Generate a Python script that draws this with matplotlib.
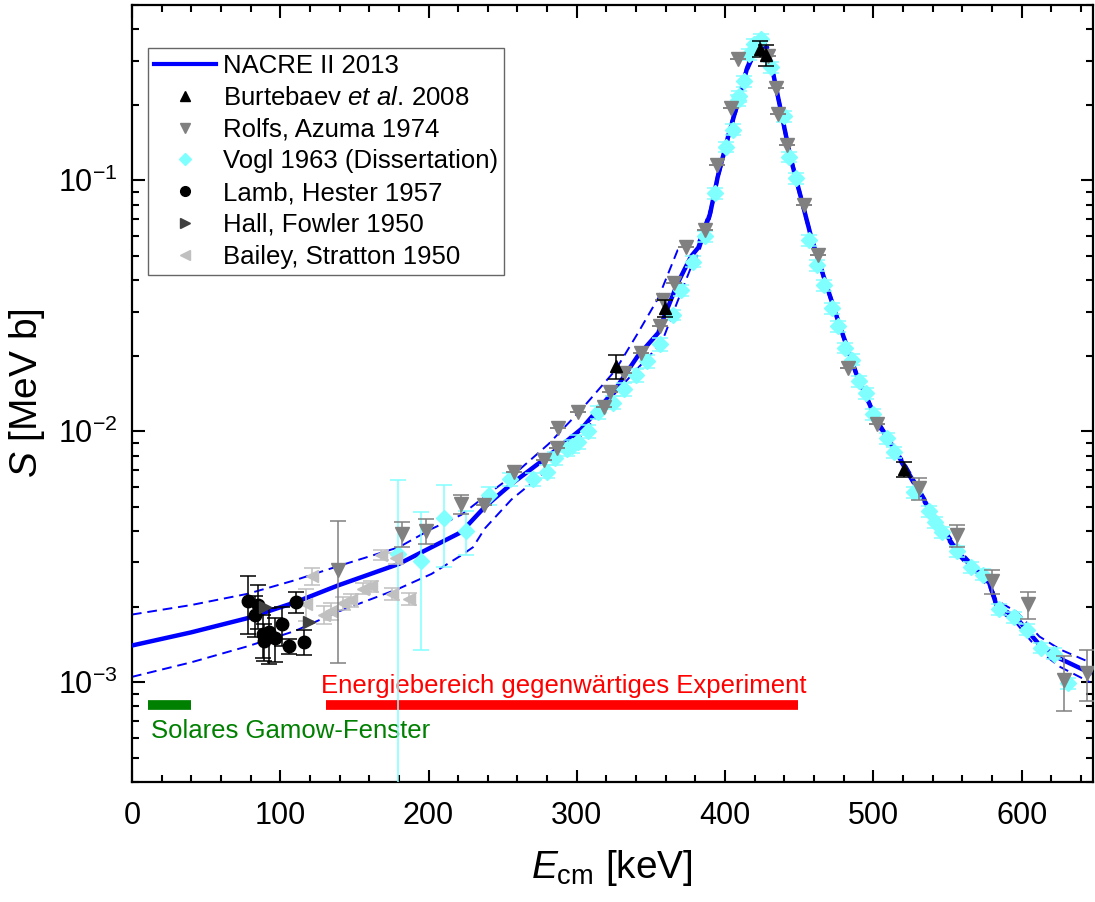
"""S-factor of 15N(p,ag)12C: NACRE II fit vs. literature data."""
import matplotlib
matplotlib.use("Agg")
import matplotlib.pyplot as plt
from matplotlib.lines import Line2D
from matplotlib.ticker import LogLocator, MultipleLocator, NullFormatter

plt.rcParams["font.family"] = ["Liberation Sans", "DejaVu Sans"]
plt.rcParams["mathtext.fontset"] = "custom"
plt.rcParams["mathtext.rm"] = "Liberation Sans"
plt.rcParams["mathtext.it"] = "Liberation Sans:italic"
plt.rcParams["axes.unicode_minus"] = False

# NACRE II 2013 (central value and band)
nacre_e = [0, 40, 78, 110, 139, 180, 202, 222, 230, 238, 256, 281, 303, 326, 341, 355,
           359, 368, 377, 382, 390, 395, 402, 409, 415, 421, 424, 429, 433, 439, 444,
           451, 458, 465, 476, 489, 503, 521, 539, 557, 574, 578, 583, 597, 612, 626, 646]
nacre_s = [1.40e-3, 1.58e-3, 1.80e-3, 2.08e-3, 2.43e-3, 2.96e-3, 3.45e-3, 3.96e-3, 4.45e-3,
           5.00e-3, 6.17e-3, 7.98e-3, 1.02e-2, 1.47e-2, 1.99e-2, 2.47e-2, 2.87e-2, 3.89e-2,
           4.97e-2, 5.40e-2, 7.40e-2, 1.03e-1, 1.49e-1, 2.08e-1, 2.82e-1, 3.38e-1, 3.55e-1,
           3.28e-1, 2.57e-1, 1.73e-1, 1.24e-1, 8.60e-2, 5.96e-2, 4.40e-2, 2.78e-2, 1.66e-2,
           1.08e-2, 7.27e-3, 4.76e-3, 3.30e-3, 2.59e-3, 2.50e-3, 2.03e-3, 1.79e-3, 1.41e-3,
           1.24e-3, 1.09e-3]
nacre_hi = [1.86e-3, 2.03e-3, 2.25e-3, 2.55e-3, 2.90e-3, 3.45e-3, 4.08e-3, 4.64e-3, 5.05e-3,
            5.50e-3, 6.60e-3, 8.90e-3, 1.22e-2, 1.75e-2, 2.45e-2, 3.40e-2, 3.89e-2, 5.27e-2,
            5.60e-2, 5.70e-2, 7.70e-2, 1.07e-1, 1.55e-1, 2.16e-1, 2.93e-1, 3.51e-1, 3.69e-1,
            3.41e-1, 2.67e-1, 1.80e-1, 1.29e-1, 8.90e-2, 6.15e-2, 4.53e-2, 2.86e-2, 1.71e-2,
            1.11e-2, 7.50e-3, 4.90e-3, 3.41e-3, 2.68e-3, 2.60e-3, 2.12e-3, 1.90e-3, 1.52e-3,
            1.35e-3, 1.20e-3]
nacre_lo = [1.05e-3, 1.20e-3, 1.39e-3, 1.60e-3, 1.91e-3, 2.36e-3, 2.70e-3, 3.20e-3, 3.45e-3,
            4.10e-3, 5.35e-3, 7.06e-3, 9.60e-3, 1.42e-2, 1.78e-2, 2.18e-2, 2.40e-2, 3.30e-2,
            4.50e-2, 5.10e-2, 7.10e-2, 9.90e-2, 1.43e-1, 2.00e-1, 2.71e-1, 3.25e-1, 3.41e-1,
            3.15e-1, 2.47e-1, 1.66e-1, 1.19e-1, 8.30e-2, 5.78e-2, 4.27e-2, 2.70e-2, 1.61e-2,
            1.05e-2, 7.05e-3, 4.62e-3, 3.20e-3, 2.51e-3, 2.42e-3, 1.96e-3, 1.70e-3, 1.33e-3,
            1.15e-3, 1.00e-3]

# Burtebaev et al. 2008
burt_e = [326.2, 359.3, 423.8, 427.5, 521.0]
burt_s = [1.82e-2, 3.10e-2, 3.35e-1, 3.15e-1, 7.06e-3]
burt_err = [2.0e-3, 2.5e-3, 2.5e-2, 3.0e-2, 5.0e-4]

# Rolfs, Azuma 1974
rolfs_e = [138.7, 182.3, 198.0, 222.2, 237.2, 257.4, 277.6, 286.5, 287.6, 300.6, 318.5,
           322.4, 332.0, 343.6, 356.0, 358.2, 365.6, 373.9, 386.2, 394.7, 404.1, 408.6,
           428.8, 434.3, 435.5, 441.7, 453.0, 462.8, 483.0, 502.2, 531.1, 556.5, 580.0,
           604.6, 628.6, 643.8]
rolfs_s = [2.79e-3, 3.90e-3, 4.02e-3, 5.13e-3, 5.06e-3, 6.90e-3, 7.70e-3, 8.54e-3, 1.03e-2,
           1.19e-2, 1.25e-2, 1.44e-2, 1.70e-2, 2.05e-2, 2.62e-2, 3.34e-2, 3.89e-2, 5.41e-2,
           6.34e-2, 1.15e-1, 1.95e-1, 3.04e-1, 3.13e-1, 2.34e-1, 1.83e-1, 1.38e-1, 7.96e-2,
           5.04e-2, 1.79e-2, 1.07e-2, 5.92e-3, 3.85e-3, 2.52e-3, 2.04e-3, 1.02e-3, 1.09e-3]
rolfs_err = [1.6e-3, 4.5e-4, 4.5e-4, 4.5e-4, 0, 0, 0, 0, 0, 0, 0, 0, 0, 0, 0, 0, 0, 0,
             0, 0, 0, 0, 0, 0, 0, 0, 0, 0, 0, 0, 6.0e-4, 4.0e-4, 2.7e-4, 2.5e-4, 2.5e-4, 2.5e-4]

# Vogl 1963 (Dissertation)
vogl_e = [179.7, 194.7, 210.3, 225.4, 240.6, 255.2, 270.8, 279.8, 285.4, 293.2, 296.6,
          301.1, 307.8, 314.5, 324.6, 332.0, 339.6, 347.6, 356.0, 364.9, 370.5, 378.4,
          386.5, 393.3, 400.7, 405.2, 408.6, 409.7, 413.1, 416.4, 419.8, 424.3, 431.0,
          440.0, 443.3, 447.8, 456.8, 461.9, 466.9, 471.8, 476.3, 480.7, 485.9, 490.4,
          494.8, 499.8, 509.4, 513.9, 527.3, 537.4, 541.9, 546.4, 556.5, 565.9, 573.9,
          584.5, 595.0, 603.5, 612.9, 621.8, 631.5]
vogl_s = [3.25e-3, 3.05e-3, 4.50e-3, 4.02e-3, 5.55e-3, 6.46e-3, 6.46e-3, 6.90e-3, 7.80e-3,
          8.49e-3, 8.74e-3, 9.08e-3, 1.00e-2, 1.19e-2, 1.30e-2, 1.47e-2, 1.67e-2, 1.90e-2,
          2.23e-2, 2.91e-2, 3.64e-2, 4.74e-2, 6.00e-2, 8.90e-2, 1.36e-1, 1.59e-1, 2.09e-1,
          2.17e-1, 2.49e-1, 3.18e-1, 3.49e-1, 3.65e-1, 2.82e-1, 1.80e-1, 1.24e-1, 1.02e-1,
          5.78e-2, 4.60e-2, 3.83e-2, 3.10e-2, 2.62e-2, 2.15e-2, 1.93e-2, 1.58e-2, 1.42e-2,
          1.17e-2, 9.40e-3, 8.27e-3, 5.71e-3, 4.79e-3, 4.35e-3, 3.97e-3, 3.32e-3, 2.88e-3,
          2.68e-3, 1.95e-3, 1.82e-3, 1.62e-3, 1.37e-3, 1.30e-3, 9.90e-4]
vogl_rel = [0.97, 0.56, 0.36, 0.2, 0.08, 0.06, 0.06, 0.06, 0.06, 0.06, 0.06, 0.06, 0.06,
            0.06, 0.06, 0.06, 0.06, 0.06, 0.06, 0.05, 0.05, 0.05, 0.05, 0.05, 0.05, 0.05,
            0.05, 0.05, 0.05, 0.05, 0.05, 0.05, 0.05, 0.05, 0.05, 0.05, 0.05, 0.05, 0.05,
            0.05, 0.05, 0.05, 0.05, 0.05, 0.05, 0.05, 0.05, 0.05, 0.05, 0.05, 0.05, 0.05,
            0.05, 0.05, 0.05, 0.05, 0.05, 0.05, 0.05, 0.05, 0.05]

# Lamb, Hester 1957
lamb_e = [78.2, 84.9, 83.1, 88.3, 88.9, 92.7, 96.8, 101.3, 106.2, 110.7, 116.3]
lamb_s = [2.10e-3, 2.03e-3, 1.86e-3, 1.55e-3, 1.46e-3, 1.58e-3, 1.50e-3, 1.70e-3,
          1.39e-3, 2.09e-3, 1.45e-3]
lamb_err = [5.5e-4, 4.0e-4, 3.5e-4, 3.0e-4, 2.5e-4, 4.0e-4, 3.0e-4, 3.0e-4, 1.0e-4,
            2.0e-4, 1.7e-4]

# Hall, Fowler 1950
hall_e = [90.0, 119.2]
hall_s = [2.00e-3, 1.74e-3]

# Bailey, Stratton 1950
bailey_e = [117.4, 121.4, 129.3, 134.2, 142.0, 147.6, 155.5, 161.1, 167.8, 175.6, 177.9, 186.8]
bailey_s = [2.05e-3, 2.65e-3, 1.86e-3, 1.92e-3, 2.06e-3, 2.12e-3, 2.36e-3, 2.41e-3,
            3.22e-3, 2.25e-3, 3.12e-3, 2.15e-3]
bailey_err = [3.0e-4, 2.0e-4, 1.5e-4, 1.5e-4, 1.2e-4, 1.2e-4, 1.2e-4, 1.2e-4, 1.5e-4,
              1.2e-4, 1.5e-4, 1.2e-4]

GAMOW = (10.8, 39.7)
EXPERIMENT = (131.0, 449.0)
BAR_S = 8.1e-4

BLUE = "#0000ff"
CYAN = "#80ffff"


def main() -> None:
    fig = plt.figure(figsize=(10.95, 9.02), dpi=100)
    ax = fig.add_axes([0.1205, 0.133, 0.8775, 0.8615])

    ax.plot(nacre_e, nacre_hi, color=BLUE, lw=1.4, ls=(0, (5, 3)), zorder=2)
    ax.plot(nacre_e, nacre_lo, color=BLUE, lw=1.4, ls=(0, (5, 3)), zorder=2)
    ax.plot(nacre_e, nacre_s, color=BLUE, lw=3.2, zorder=3)

    eb = dict(ls="none", capsize=6, elinewidth=1.1, capthick=1.1)
    vogl_err = [s * r for s, r in zip(vogl_s, vogl_rel)]
    ax.errorbar(vogl_e, vogl_s, yerr=vogl_err, marker="D", ms=8, color=CYAN,
                ecolor=CYAN, zorder=4, **eb)
    ax.errorbar(bailey_e, bailey_s, yerr=bailey_err, marker="<", ms=9, color="#c0c0c0",
                ecolor="#c0c0c0", zorder=4, **eb)
    ax.errorbar(rolfs_e, rolfs_s, yerr=rolfs_err, marker="v", ms=10, color="#808080",
                ecolor="#808080", zorder=5, **eb)
    ax.errorbar(lamb_e, lamb_s, yerr=lamb_err, marker="o", ms=9, color="black",
                ecolor="black", zorder=5, **eb)
    ax.errorbar(hall_e, hall_s, marker=">", ms=9, color="#404040", zorder=5, **eb)
    ax.errorbar(burt_e, burt_s, yerr=burt_err, marker="^", ms=9, color="black",
                ecolor="black", zorder=6, **eb)

    ax.plot(GAMOW, [BAR_S, BAR_S], color="green", lw=7, solid_capstyle="butt", zorder=3)
    ax.plot(EXPERIMENT, [BAR_S, BAR_S], color="red", lw=7, solid_capstyle="butt", zorder=3)
    ax.text(13, 6.4e-4, "Solares Gamow-Fenster", color="green", fontsize=18.5, va="center")
    ax.text(127.5, 9.7e-4, "Energiebereich gegenwärtiges Experiment", color="red",
            fontsize=18.5, va="center")

    ax.set_yscale("log")
    ax.set_xlim(0, 648)
    ax.set_ylim(4e-4, 0.5)
    ax.xaxis.set_major_locator(MultipleLocator(100))
    ax.xaxis.set_minor_locator(MultipleLocator(20))
    ax.yaxis.set_major_locator(LogLocator(base=10, numticks=10))
    ax.yaxis.set_minor_locator(LogLocator(base=10, subs=range(2, 10), numticks=10))
    ax.yaxis.set_minor_formatter(NullFormatter())
    ax.tick_params(which="both", direction="in", top=True, right=True, labelsize=22, width=1.5)
    ax.tick_params(which="major", length=9)
    ax.tick_params(axis="x", which="major", pad=14)
    ax.tick_params(axis="y", which="major", pad=10)
    ax.tick_params(which="minor", length=5)
    for sp in ax.spines.values():
        sp.set_linewidth(1.6)

    ax.set_xlabel(r"$\mathit{E}_{\mathrm{cm}}$ [keV]", fontsize=28, labelpad=12)
    ax.set_ylabel(r"$\mathit{S}$ [MeV b]", fontsize=28, labelpad=8)

    handles = [
        Line2D([], [], color=BLUE, lw=3),
        Line2D([], [], ls="none", marker="^", ms=7, color="black"),
        Line2D([], [], ls="none", marker="v", ms=7, color="#808080"),
        Line2D([], [], ls="none", marker="D", ms=6, color=CYAN),
        Line2D([], [], ls="none", marker="o", ms=7, color="black"),
        Line2D([], [], ls="none", marker=">", ms=7, color="#404040"),
        Line2D([], [], ls="none", marker="<", ms=7, color="#c0c0c0"),
    ]
    labels = ["NACRE II 2013", r"Burtebaev $\mathit{et\ al.}\,$2008", "Rolfs, Azuma 1974",
              "Vogl 1963 (Dissertation)", "Lamb, Hester 1957", "Hall, Fowler 1950",
              "Bailey, Stratton 1950"]
    leg = ax.legend(handles, labels, loc="upper left", bbox_to_anchor=(0.0167, 0.9447),
                    fontsize=18.5, frameon=True, fancybox=False, edgecolor="#404040",
                    handlelength=2.4, handletextpad=0.25, labelspacing=0.3,
                    borderpad=0.25, borderaxespad=0)
    leg.get_frame().set_linewidth(1.0)

    fig.savefig("out.png", dpi=100)
    plt.close(fig)


if __name__ == "__main__":
    main()
